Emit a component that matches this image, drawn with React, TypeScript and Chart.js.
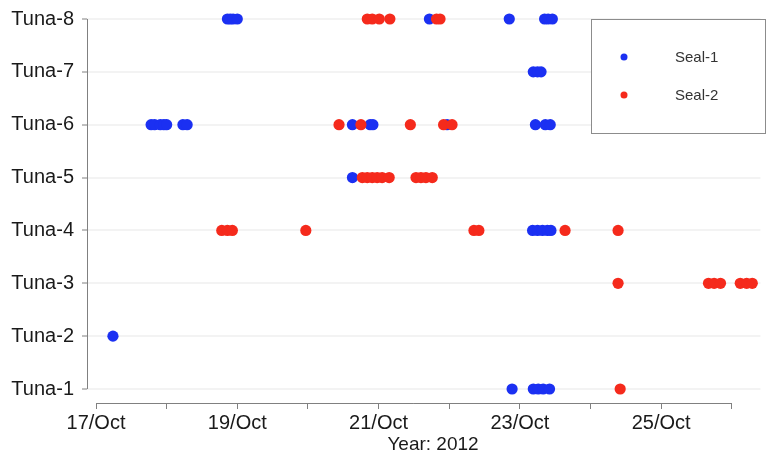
import React, { useEffect, useRef } from 'react';
import { Chart, registerables } from 'chart.js';

Chart.register(...registerables);

// ---- data ----
const tunaLabels = ['Tuna-1', 'Tuna-2', 'Tuna-3', 'Tuna-4', 'Tuna-5', 'Tuna-6', 'Tuna-7', 'Tuna-8'];
const dayTicks = [17, 18, 19, 20, 21, 22, 23, 24, 25, 26];
const dayLabels = ['17/Oct', '', '19/Oct', '', '21/Oct', '', '23/Oct', '', '25/Oct', ''];
const xTitle = 'Year: 2012';
const seriesNames = ['Seal-1', 'Seal-2'];
const seriesColors = ['#1b30f2', '#f52a1c'];

// days (October 2012, fractional) per tuna, index 0 = Tuna-1
const seal1Days: number[][] = [
  [22.89, 23.19, 23.26, 23.33, 23.42],
  [17.24],
  [],
  [23.18, 23.25, 23.32, 23.39, 23.44],
  [20.63],
  [17.78, 17.83, 17.91, 17.96, 18.0, 18.23, 18.29, 20.63, 20.88, 20.92, 21.97, 23.22, 23.36, 23.43],
  [23.19, 23.25, 23.3],
  [18.86, 18.9, 18.94, 19.0, 21.72, 22.85, 23.35, 23.4, 23.46],
];
const seal2Days: number[][] = [
  [24.42],
  [],
  [24.39, 25.67, 25.75, 25.84, 26.12, 26.21, 26.29],
  [18.78, 18.86, 18.93, 19.97, 22.35, 22.42, 23.64, 24.39],
  [20.77, 20.84, 20.91, 20.98, 21.05, 21.15, 21.53, 21.6, 21.67, 21.76],
  [20.44, 20.75, 21.45, 21.92, 22.04],
  [],
  [20.84, 20.91, 21.01, 21.16, 21.82, 21.87],
];

const toPoints = (days: number[][]) =>
  days.flatMap((list, i) => list.map((d) => ({ x: d, y: i + 1 })));

const FONT = '"Liberation Sans", Arial, sans-serif';

const zeroPad = (s: any) => {
  s.paddingLeft = 0;
  s.paddingRight = 0;
  s.paddingTop = 0;
  s.paddingBottom = 0;
};

const decorPlugin = {
  id: 'decor',
  afterDraw(chart: any) {
    const { ctx, scales, chartArea } = chart;
    const xs = scales.x;
    const ys = scales.y;
    ctx.save();
    ctx.strokeStyle = '#808080';
    ctx.lineWidth = 1;
    // y axis line (Tuna-1 .. Tuna-8)
    const ax = Math.round(chartArea.left) + 0.5;
    ctx.beginPath();
    ctx.moveTo(ax, ys.getPixelForValue(1));
    ctx.lineTo(ax, ys.getPixelForValue(tunaLabels.length));
    ctx.stroke();
    // x axis line (first .. last day)
    const ay = Math.round(chartArea.bottom) + 0.5;
    ctx.beginPath();
    ctx.moveTo(xs.getPixelForValue(dayTicks[0]), ay);
    ctx.lineTo(xs.getPixelForValue(dayTicks[dayTicks.length - 1]), ay);
    ctx.stroke();

    // axis title
    ctx.fillStyle = '#1a1a1a';
    ctx.font = `19px ${FONT}`;
    ctx.textAlign = 'center';
    ctx.textBaseline = 'middle';
    ctx.fillText(xTitle, 433, 445);

    // legend box
    ctx.fillStyle = '#ffffff';
    ctx.fillRect(591, 19, 175, 114);
    ctx.strokeStyle = '#8c8c8c';
    ctx.strokeRect(591.5, 19.5, 174, 114);
    seriesNames.forEach((name, i) => {
      const cy = 57 + i * 38;
      ctx.fillStyle = seriesColors[i];
      ctx.beginPath();
      ctx.arc(624, cy, 3.5, 0, Math.PI * 2);
      ctx.fill();
      ctx.fillStyle = '#333333';
      ctx.font = `15px ${FONT}`;
      ctx.textAlign = 'left';
      ctx.textBaseline = 'middle';
      ctx.fillText(name, 675, cy + 1);
    });
    ctx.restore();
  },
};

export default function App() {
  const ref = useRef<HTMLCanvasElement>(null);
  useEffect(() => {
    if (!ref.current) return;
    const chart = new Chart(ref.current, {
      type: 'scatter',
      data: {
        datasets: [
          {
            label: seriesNames[0],
            data: toPoints(seal1Days),
            backgroundColor: seriesColors[0],
            borderColor: seriesColors[0],
            borderWidth: 0,
            pointRadius: 5.6,
            order: 1,
          },
          {
            label: seriesNames[1],
            data: toPoints(seal2Days),
            backgroundColor: seriesColors[1],
            borderColor: seriesColors[1],
            borderWidth: 0,
            pointRadius: 5.6,
            order: 0,
          },
        ],
      },
      options: {
        responsive: false,
        animation: false,
        devicePixelRatio: 1,
        layout: { padding: { top: 10, right: 0, left: 0, bottom: 0 } },
        plugins: { legend: { display: false }, tooltip: { enabled: false } },
        scales: {
          x: {
            type: 'linear',
            min: 16.8725,
            max: 26.405,
            afterBuildTicks: (axis: any) => {
              axis.ticks = dayTicks.map((v) => ({ value: v }));
            },
            afterFit: (s: any) => {
              s.height = 52;
              zeroPad(s);
            },
            border: { display: false },
            grid: {
              drawOnChartArea: false,
              drawTicks: true,
              tickLength: 6,
              tickColor: '#808080',
              tickWidth: 1,
            },
            ticks: {
              autoSkip: false,
              maxRotation: 0,
              padding: 2,
              color: '#1a1a1a',
              font: { family: FONT, size: 20 },
              callback: (v: any) => {
                const i = dayTicks.indexOf(Number(v));
                return i >= 0 ? dayLabels[i] : '';
              },
            },
          },
          y: {
            type: 'linear',
            min: 0.735,
            max: 8.17,
            afterBuildTicks: (axis: any) => {
              axis.ticks = tunaLabels.map((_, i) => ({ value: i + 1 }));
            },
            afterFit: (s: any) => {
              s.width = 87;
              zeroPad(s);
            },
            border: { display: false },
            grid: {
              color: '#f3f3f3',
              lineWidth: 2,
              drawTicks: true,
              tickLength: 5,
              tickColor: '#808080',
              tickWidth: 1,
            },
            ticks: {
              padding: 8,
              color: '#1a1a1a',
              font: { family: FONT, size: 20 },
              callback: (v: any) => tunaLabels[Number(v) - 1] ?? '',
            },
          },
        },
      },
      plugins: [decorPlugin],
    } as any);
    return () => chart.destroy();
  }, []);
  return (
    <div style={{ position: 'absolute', left: 0, top: 0, width: 766, height: 455, background: '#fff' }}>
      <canvas ref={ref} width={766} height={455} />
    </div>
  );
}
